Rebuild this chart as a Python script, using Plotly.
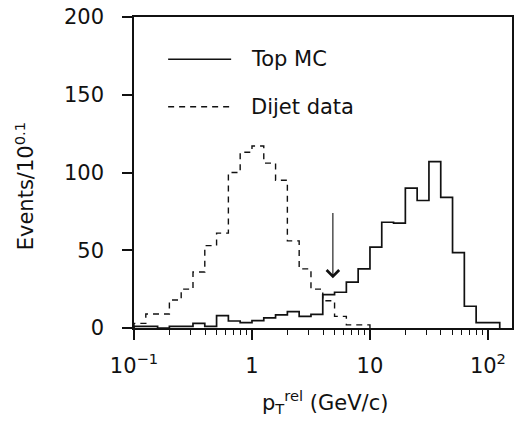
import numpy as np
import plotly.graph_objects as go

# ---- data ----
bin_width_log = 0.1           # Events / 10^0.1
dijet_first_edge_log = -1.0
dijet_counts = [3, 9, 9, 18, 25, 36, 53, 61, 100, 113, 117, 106, 95, 56, 38, 25, 17.5, 7.5, 2, 2]
top_first_edge_log = -1.0
top_counts = [1, 1, 0, 1, 1, 3, 1, 8, 4.5, 3.5, 4.7, 6.5, 8.5, 10.5, 7.5, 8.7,
              21.5, 23, 29.5, 38, 52, 68, 67.5, 90, 82, 107, 84, 48.5, 14, 3.5, 3.5]
arrow_x = 4.85
arrow_y_top = 75
arrow_y_tip = 32
x_tickvals = [0.1, 1, 10, 100]
x_ticktext = ["10<sup>−1</sup>", "1", "10", "10<sup>2</sup>"]
y_tickvals = [0, 50, 100, 150, 200]
legend_labels = ["Top MC", "Dijet data"]

FONT = "DejaVu Sans"
INK = "#111111"


def hist_path(first_edge_log, counts):
    n = len(counts)
    edges = 10 ** (first_edge_log + bin_width_log * np.arange(n + 1))
    xs = [edges[0]] + list(edges) + [edges[-1]]
    ys = [0] + list(counts) + [counts[-1], 0]
    return xs, ys


fig = go.Figure()
xd, yd = hist_path(dijet_first_edge_log, dijet_counts)
fig.add_trace(go.Scatter(x=xd, y=yd, mode="lines", line_shape="hv",
                         line=dict(color=INK, width=1.4, dash="6px,5px"),
                         name=legend_labels[1], showlegend=False))
xt, yt = hist_path(top_first_edge_log, top_counts)
fig.add_trace(go.Scatter(x=xt, y=yt, mode="lines", line_shape="hv",
                         line=dict(color=INK, width=1.7),
                         name=legend_labels[0], showlegend=False))

minor_vals = [m * 10.0 ** d for d in (-1, 0, 1) for m in range(2, 10)]

fig.update_layout(
    width=515, height=423,
    margin=dict(l=134, r=1, t=17, b=95),
    paper_bgcolor="white", plot_bgcolor="white",
    font=dict(family=FONT, size=20, color=INK),
    xaxis=dict(type="log", range=[-1, 2.204], showgrid=False, zeroline=False,
               showline=True, linecolor=INK, linewidth=1.5, mirror=True,
               ticks="outside", ticklen=10, tickwidth=1.5, tickcolor=INK,
               tickvals=x_tickvals, ticktext=x_ticktext, ticklabelstandoff=8,
               tickfont=dict(family=FONT, size=21, color=INK),
               minor=dict(ticks="outside", ticklen=5, tickwidth=1.3, tickcolor=INK,
                          tickvals=minor_vals, showgrid=False)),
    yaxis=dict(range=[0, 200], showgrid=False, zeroline=False,
               showline=True, linecolor=INK, linewidth=1.5, mirror=True,
               ticks="outside", ticklen=10, tickwidth=1.5, tickcolor=INK,
               tickvals=y_tickvals, ticklabelstandoff=14,
               tickfont=dict(family=FONT, size=21, color=INK)),
)

# axis titles
fig.add_annotation(x=0.505, y=-0.238, xref="paper", yref="paper",
                   text="p<sub>T</sub><sup>rel</sup> (GeV/c)", showarrow=False,
                   xanchor="center", yanchor="middle",
                   font=dict(family=FONT, size=21, color=INK))
fig.add_annotation(x=-0.29, y=0.457, xref="paper", yref="paper",
                   text="Events/10<sup>0.1</sup>", showarrow=False, textangle=-90,
                   xanchor="center", yanchor="middle",
                   font=dict(family=FONT, size=21, color=INK))

# legend (drawn manually to match the long line samples)
for i, (lab, dash) in enumerate(zip(legend_labels, ["solid", "6px,5px"])):
    yy = [0.864, 0.7116][i]
    fig.add_shape(type="line", xref="paper", yref="paper",
                  x0=0.0903, x1=0.257, y0=yy, y1=yy,
                  line=dict(color=INK, width=1.5, dash=dash))
    fig.add_annotation(x=0.3034, y=yy, xref="paper", yref="paper", text=lab,
                       showarrow=False, xanchor="left", yanchor="middle",
                       font=dict(family=FONT, size=21, color=INK))

# cut arrow
fig.add_annotation(x=np.log10(arrow_x), y=arrow_y_tip, ax=np.log10(arrow_x), ay=arrow_y_top,
                   xref="x", yref="y", axref="x", ayref="y", text="",
                   showarrow=True, arrowhead=4, arrowsize=2.2, arrowwidth=1.1,
                   arrowcolor=INK)

fig.write_html("out.html")
